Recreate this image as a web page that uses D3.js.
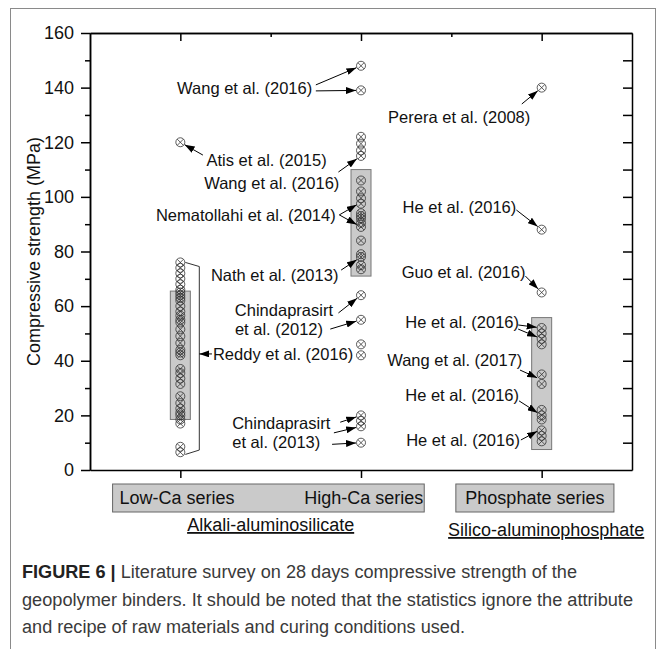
<!DOCTYPE html>
<html>
<head>
<meta charset="utf-8">
<script src="https://cdn.jsdelivr.net/npm/d3@7"></script>
<style>
  body { margin: 0; background: #fff; }
  svg text { font-family: "Liberation Sans", Arial, sans-serif; }
  .axis path, .axis line { stroke: #000; stroke-width: 1.5; }
  .axis text { font-size: 18px; fill: #111; }
</style>
</head>
<body>
<div id="chart"></div>
<script>
// categories and groups
var categories = ["Low-Ca series", "High-Ca series", "Phosphate series"];
var categoryPos = [0, 2, 4];
var groups = ["Alkali-aluminosilicate", "Silico-aluminophosphate"];
var yTicks = [0, 20, 40, 60, 80, 100, 120, 140, 160];

// 28 day compressive strength (MPa)
var lowCa = [120, 76, 74, 72, 70, 68, 66, 65, 64, 63, 62, 60, 58, 56.5, 55, 54, 51.5, 49, 46.5, 44, 43, 42,
             37, 35.5, 33.5, 31.5, 27, 24.5, 22.5, 21, 20, 18.5, 17, 8.5, 6.5];
var highCa = [148, 139, 122, 119.5, 117, 115, 106, 102, 99.5, 97.5, 94, 93, 92, 90.5, 89, 84,
              79, 78, 75, 73.5, 64, 55, 46, 42, 20, 18, 16, 10];
var phosphate = [140, 88, 65, 52, 50, 48, 46, 35, 31.5, 22, 20, 18.5, 14.5, 12.5, 10.5];

// shaded range boxes [low, high]
var lowCaBox = [18.5, 65.5];
var highCaBox = [71, 110];
var phosphateBox = [7.5, 55.8];

// Reddy et al. (2016) covers the low-Ca cluster
var reddyRange = [6.5, 76];

// literature labels: label anchor (x in category units, y in MPa), arrow start, arrow targets
var refs = [
  {text: ["Wang et al. (2016)"], at: [1.46, 139.9], anchor: "end",
   from: [[1.50, 141.0], [1.50, 138.8]], to: [[2, 148], [2, 139]]},
  {text: ["Atis et al. (2015)"], at: [0.29, 113.5], anchor: "start",
   from: [[0.25, 115.3]], to: [[0, 120]]},
  {text: ["Wang et al. (2016)"], at: [1.76, 105.1], anchor: "end",
   from: [[1.75, 109.1]], to: [[2, 115]]},
  {text: ["Nematollahi et al. (2014)"], at: [1.72, 93.4], anchor: "end",
   from: [[1.76, 93.4], [1.76, 93.4]], to: [[2, 98], [2, 89]]},
  {text: ["Nath et al. (2013)"], at: [1.75, 71.4], anchor: "end",
   from: [[1.78, 73.2]], to: [[2, 78]]},
  {text: ["Chindaprasirt", "et al. (2012)"], at: [1.69, 58.6], anchor: "end",
   from: [[1.75, 57.5], [1.66, 51.6]], to: [[2, 64], [2, 55]]},
  {text: ["Chindaprasirt", "et al. (2013)"], at: [1.66, 17.2], anchor: "end",
   from: [[1.77, 17.5], [1.70, 13.6], [1.68, 9.4]], to: [[2, 20], [2, 16], [2, 10]]},
  {text: ["Perera et al. (2008)"], at: [2.30, 129.2], anchor: "start",
   from: [[3.78, 134]], to: [[4, 140]]},
  {text: ["He et al. (2016)"], at: [2.46, 96.3], anchor: "start",
   from: [[3.72, 95.2]], to: [[4, 88]]},
  {text: ["Guo et al. (2016)"], at: [2.45, 72.5], anchor: "start",
   from: [[3.82, 71.0]], to: [[4, 65]]},
  {text: ["He et al. (2016)"], at: [2.49, 54.2], anchor: "start",
   from: [[3.74, 53.1], [3.74, 51.6]], to: [[4, 52], [4, 48]]},
  {text: ["Wang et al. (2017)"], at: [2.29, 40.3], anchor: "start",
   from: [[3.76, 36.6]], to: [[4, 33]]},
  {text: ["He et al. (2016)"], at: [2.49, 27.5], anchor: "start",
   from: [[3.75, 25.3]], to: [[4, 20]]},
  {text: ["He et al. (2016)"], at: [2.50, 11.0], anchor: "start",
   from: [[3.77, 11.0]], to: [[4, 15]]}
];
var reddy = {text: "Reddy et al. (2016)", at: [0.35, 42.5], bracketX: 0.21};

var captionLines = [
  ["FIGURE 6 |", " Literature survey on 28 days compressive strength of the"],
  ["", "geopolymer binders. It should be noted that the statistics ignore the attribute"],
  ["", "and recipe of raw materials and curing conditions used."]
];
var captionWidths = [555, 611, 443];

var W = 665, H = 649;
var margin = {top: 33, right: 33, bottom: 179, left: 90},
    width = W - margin.left - margin.right,
    height = H - margin.top - margin.bottom;

var x = d3.scaleLinear().domain([-1, 5]).range([0, width]);
var y = d3.scaleLinear().domain([0, 160]).range([height, 0]);

var root = d3.select("#chart").append("svg")
    .attr("width", W).attr("height", H);

// outer frame
root.append("rect")
    .attr("x", 10.5).attr("y", 8.5).attr("width", 645).attr("height", 660)
    .attr("fill", "none").attr("stroke", "#8a8a8a").attr("stroke-width", 1);

root.append("defs").append("marker")
    .attr("id", "arrow")
    .attr("markerUnits", "userSpaceOnUse")
    .attr("viewBox", "0 0 10 7")
    .attr("refX", 10).attr("refY", 3.5)
    .attr("markerWidth", 10).attr("markerHeight", 7)
    .attr("orient", "auto")
  .append("path").attr("d", "M0,0L10,3.5L0,7Z").attr("fill", "#000");

var svg = root.append("g")
    .attr("transform", "translate(" + margin.left + "," + margin.top + ")");

// shaded range boxes
var boxes = [[0, lowCaBox], [2, highCaBox], [4, phosphateBox]];
svg.selectAll(".rbox").data(boxes).enter().append("rect")
    .attr("class", "rbox")
    .attr("x", function(d) { return x(d[0]) - 10; })
    .attr("width", 20)
    .attr("y", function(d) { return y(d[1][1]); })
    .attr("height", function(d) { return y(d[1][0]) - y(d[1][1]); })
    .attr("fill", "#cacaca").attr("stroke", "#777").attr("stroke-width", 1);

// points
var pts = [];
lowCa.forEach(function(v) { pts.push([0, v]); });
highCa.forEach(function(v) { pts.push([2, v]); });
phosphate.forEach(function(v) { pts.push([4, v]); });

var mk = svg.selectAll(".pt").data(pts).enter().append("g")
    .attr("class", "pt")
    .attr("transform", function(d) { return "translate(" + x(d[0]) + "," + y(d[1]) + ")"; });
mk.append("circle").attr("r", 4.5)
    .attr("fill", "none").attr("stroke", "#333").attr("stroke-width", 0.8);
mk.append("path").attr("d", "M-3.1,-3.1L3.1,3.1M-3.1,3.1L3.1,-3.1")
    .attr("stroke", "#333").attr("stroke-width", 0.8);

// bracket for Reddy et al.
var lo = reddyRange[0], hi = reddyRange[1];
svg.append("path")
    .attr("d", "M" + (x(0) + 5) + "," + y(hi) +
               "L" + x(reddy.bracketX) + "," + y(hi - 1.5) +
               "L" + x(reddy.bracketX) + "," + y(lo + 0.8) +
               "L" + (x(0) + 5) + "," + y(lo - 0.8))
    .attr("fill", "none").attr("stroke", "#333").attr("stroke-width", 1);
svg.append("line")
    .attr("x1", x(reddy.at[0])).attr("y1", y(reddy.at[1]))
    .attr("x2", x(reddy.bracketX)).attr("y2", y(reddy.at[1]))
    .attr("stroke", "#000").attr("stroke-width", 1)
    .attr("marker-end", "url(#arrow)");
svg.append("text")
    .attr("x", x(reddy.at[0]) + 1).attr("y", y(reddy.at[1]))
    .attr("dy", "0.35em").attr("font-size", 16.5).attr("fill", "#111")
    .text(reddy.text);

// labels and arrows
refs.forEach(function(r) {
  var t = svg.append("text")
      .attr("text-anchor", r.anchor)
      .attr("font-size", 16.5).attr("fill", "#111");
  r.text.forEach(function(s, i) {
    t.append("tspan")
        .attr("x", x(r.at[0]) - (i > 0 && r.anchor === "end" ? 10 : 0))
        .attr("y", y(r.at[1]) + i * 19)
        .attr("dy", "0.35em")
        .text(s);
  });
  r.from.forEach(function(f, i) {
    var x1 = x(f[0]), y1 = y(f[1]), tx = x(r.to[i][0]), ty = y(r.to[i][1]);
    var dx = tx - x1, dy = ty - y1, len = Math.sqrt(dx * dx + dy * dy);
    svg.append("line")
        .attr("x1", x1).attr("y1", y1)
        .attr("x2", tx - dx / len * 5).attr("y2", ty - dy / len * 5)
        .attr("stroke", "#000").attr("stroke-width", 1)
        .attr("marker-end", "url(#arrow)");
  });
});

// axes
svg.append("g").attr("class", "axis")
    .call(d3.axisLeft(y).tickValues(yTicks).tickSize(9).tickPadding(7).tickSizeOuter(0));
svg.append("g").attr("class", "axis")
    .call(d3.axisLeft(y).tickValues(d3.range(10, 160, 20)).tickSize(5).tickFormat("").tickSizeOuter(0));
svg.append("g").attr("class", "axis")
    .attr("transform", "translate(" + width + ",0)")
    .call(d3.axisRight(y).tickValues(d3.range(10, 160, 10)).tickSize(-9).tickFormat("").tickSizeOuter(0));
svg.append("g").attr("class", "axis")
    .call(d3.axisTop(x).tickValues(categoryPos).tickSize(-8).tickFormat("").tickSizeOuter(0));
svg.append("g").attr("class", "axis")
    .call(d3.axisTop(x).tickValues([1, 3]).tickSize(-4).tickFormat("").tickSizeOuter(0));
svg.append("g").attr("class", "axis")
    .attr("transform", "translate(0," + height + ")")
    .call(d3.axisBottom(x).tickValues(categoryPos).tickSize(8).tickFormat("").tickSizeOuter(0));
svg.selectAll(".axis .domain").attr("stroke-width", 1.6);

svg.append("text")
    .attr("transform", "rotate(-90)")
    .attr("x", -height / 2).attr("y", -50)
    .attr("text-anchor", "middle").attr("font-size", 18).attr("fill", "#111")
    .text("Compressive strength (MPa)");

// category boxes under the axis
var catBoxes = [
  {x0: x(-0.75), x1: x(2.7), labels: [categories[0], categories[1]]},
  {x0: x(3.05), x1: x(4.8), labels: [categories[2]]}
];
catBoxes.forEach(function(b) {
  svg.append("rect")
      .attr("x", b.x0).attr("y", height + 14)
      .attr("width", b.x1 - b.x0).attr("height", 28)
      .attr("fill", "#cacaca").attr("stroke", "#666").attr("stroke-width", 1);
  if (b.labels.length === 2) {
    svg.append("text").attr("x", b.x0 + 7).attr("y", height + 34)
        .attr("font-size", 18).attr("fill", "#111").text(b.labels[0]);
    svg.append("text").attr("x", b.x1 - 1).attr("y", height + 34)
        .attr("text-anchor", "end").attr("font-size", 18).attr("fill", "#111").text(b.labels[1]);
  } else {
    svg.append("text").attr("x", (b.x0 + b.x1) / 2).attr("y", height + 34)
        .attr("text-anchor", "middle").attr("font-size", 18).attr("fill", "#111").text(b.labels[0]);
  }
});

svg.append("text").attr("x", x(1)).attr("y", height + 61)
    .attr("text-anchor", "middle").attr("font-size", 18).attr("fill", "#111")
    .attr("text-decoration", "underline").text(groups[0]);
svg.append("text").attr("x", x(4.05)).attr("y", height + 66)
    .attr("text-anchor", "middle").attr("font-size", 18).attr("fill", "#111")
    .attr("text-decoration", "underline").text(groups[1]);

// caption
captionLines.forEach(function(l, i) {
  var t = root.append("text")
      .attr("x", 22).attr("y", 578 + i * 27.5)
      .attr("font-size", 18).attr("fill", "#3a3a3a")
      .attr("textLength", captionWidths[i]).attr("lengthAdjust", "spacingAndGlyphs");
  if (l[0]) t.append("tspan").attr("font-weight", "bold").attr("fill", "#222").text(l[0]);
  t.append("tspan").text(l[1]);
});
</script>
</body>
</html>
